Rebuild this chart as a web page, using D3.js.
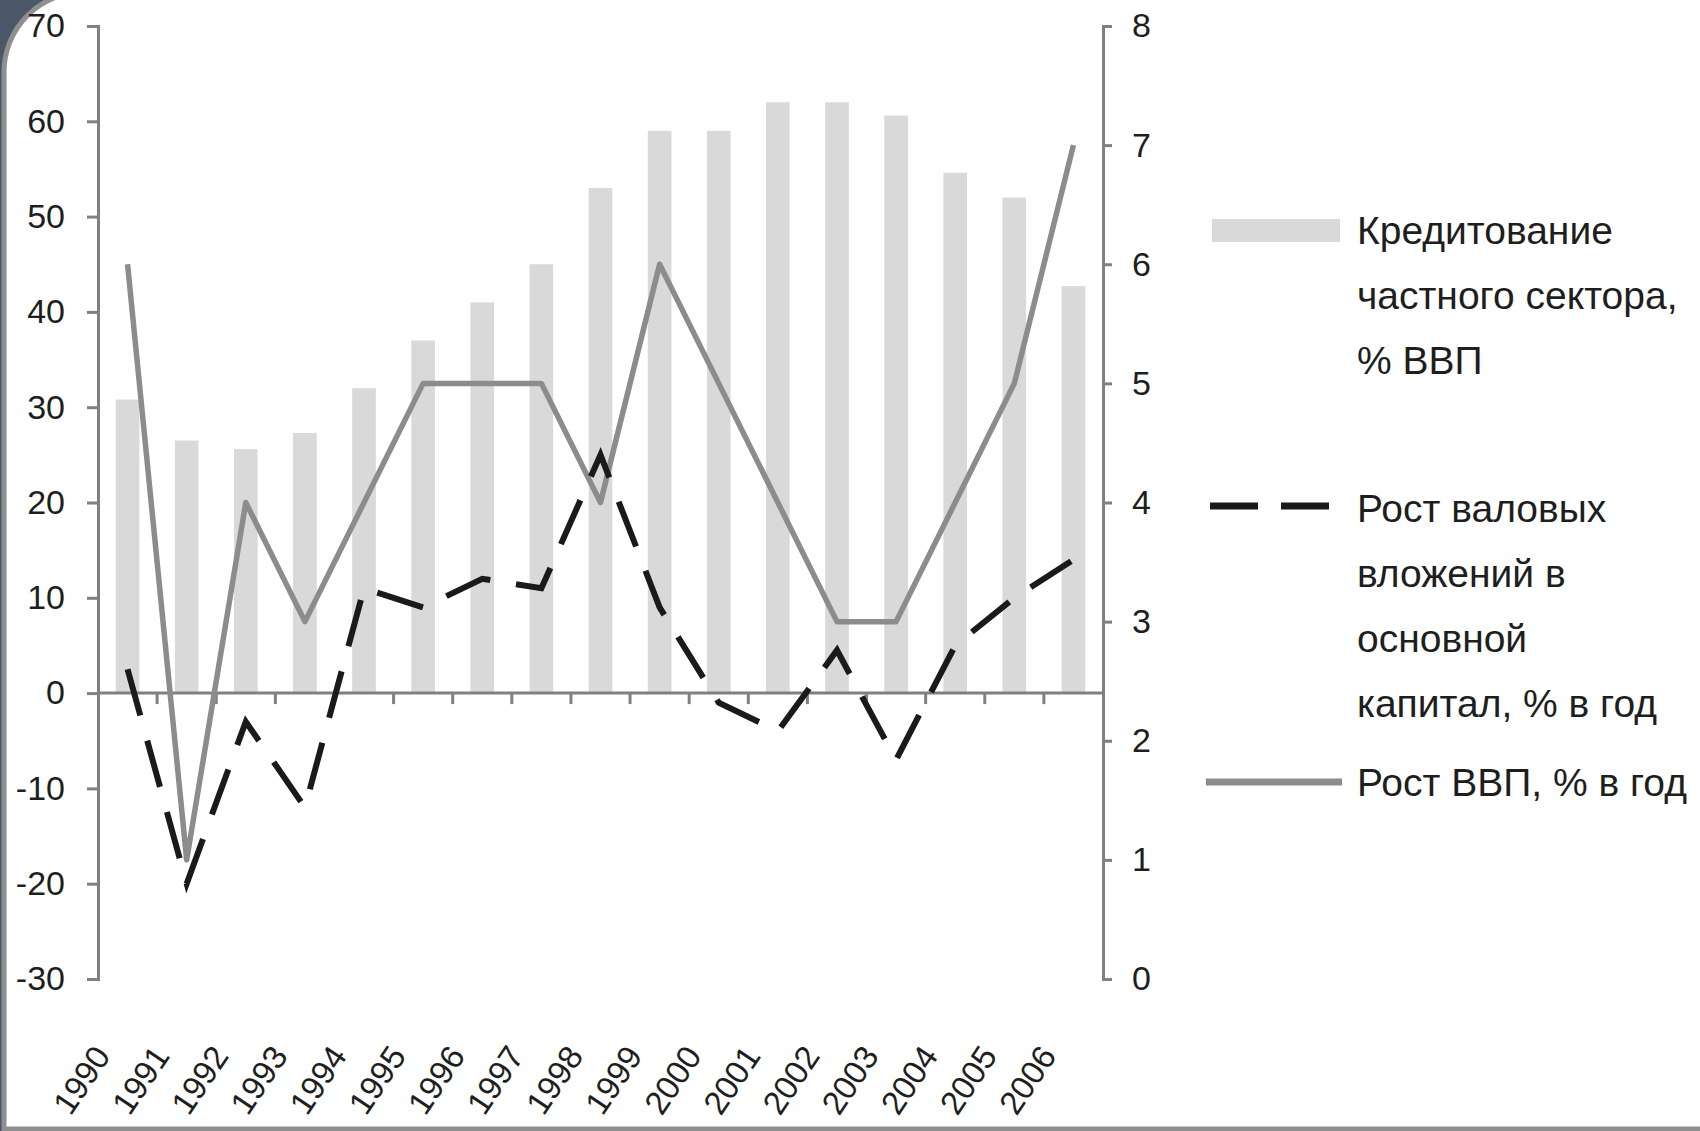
<!DOCTYPE html>
<html>
<head>
<meta charset="utf-8">
<script src="https://cdn.jsdelivr.net/npm/d3@7/dist/d3.min.js"></script>
<style>
    html, body { margin: 0; padding: 0; background: #ffffff; }
    svg { display: block; }
    text { font-family: "Liberation Sans", Arial, sans-serif; fill: #1e1e1e; }
</style>
</head>
<body>
<div id="chart"></div>
<script>
    const years = ['1990', '1991', '1992', '1993', '1994', '1995', '1996', '1997', '1998',
        '1999', '2000', '2001', '2002', '2003', '2004', '2005', '2006'];
    // Кредитование частного сектора, % ВВП (left axis)
    const credit = [30.8, 26.5, 25.6, 27.3, 32, 37, 41, 45, 53, 59, 59, 62, 62, 60.6, 54.6, 52, 42.7];
    // Рост валовых вложений в основной капитал, % в год (left axis)
    const investment = [2.5, -20, -3, -12, 11, 9, 12, 11, 25, 9, -1, -4, 4.5, -7, 5, 10, 14];
    // Рост ВВП, % в год (right axis)
    const gdp = [6, 1, 4, 3, 4, 5, 5, 5, 4, 6, 5, 4, 3, 3, 4, 5, 7];

    const leftTicks = [-30, -20, -10, 0, 10, 20, 30, 40, 50, 60, 70];
    const rightTicks = [0, 1, 2, 3, 4, 5, 6, 7, 8];

    const legendCredit = ['Кредитование', 'частного сектора,', '% ВВП'];
    const legendInvest = ['Рост валовых', 'вложений в', 'основной', 'капитал, % в год'];
    const legendGdp = ['Рост ВВП, % в год'];

    const width = 1700;
    const height = 1131;
    const plot = { left: 98, right: 1103, top: 26, bottom: 979 };

    const svg = d3.select('#chart')
        .append('svg')
        .attr('width', width)
        .attr('height', height);

    // slide frame: dark corner top-left, white card with grey border
    svg.append('rect')
        .attr('width', width)
        .attr('height', height)
        .attr('fill', '#4b5669');

    svg.append('path')
        .attr('d', 'M4,1129 V72 A80,80 0 0 1 84,-8 H1720 V1129 Z')
        .attr('fill', '#ffffff')
        .attr('stroke', '#8f8f8f')
        .attr('stroke-width', 5);

    const x = d3.scaleBand()
        .domain(years)
        .range([plot.left, plot.right])
        .paddingInner(0.6)
        .paddingOuter(0.3);

    // band of a full category (for tick marks and line points)
    const xCat = d3.scaleBand()
        .domain(years)
        .range([plot.left, plot.right]);

    const yLeft = d3.scaleLinear()
        .domain([-30, 70])
        .range([plot.bottom, plot.top]);

    const yRight = d3.scaleLinear()
        .domain([0, 8])
        .range([plot.bottom, plot.top]);

    const g = svg.append('g');

    // bars
    g.selectAll('rect.bar')
        .data(credit)
        .enter()
        .append('rect')
        .attr('class', 'bar')
        .attr('x', (d, i) => x(years[i]))
        .attr('width', x.bandwidth())
        .attr('y', d => yLeft(d))
        .attr('height', d => yLeft(0) - yLeft(d))
        .attr('fill', '#d9d9d9');

    const axisColor = '#808080';

    // left axis
    const leftAxis = g.append('g')
        .attr('transform', `translate(${plot.left},0)`)
        .call(d3.axisLeft(yLeft).tickValues(leftTicks).tickSize(11).tickPadding(22));

    // right axis
    const rightAxis = g.append('g')
        .attr('transform', `translate(${plot.right},0)`)
        .call(d3.axisRight(yRight).tickValues(rightTicks).tickSize(9).tickPadding(20));

    [leftAxis, rightAxis].forEach(a => {
        a.select('.domain').attr('stroke', axisColor).attr('stroke-width', 3);
        a.selectAll('.tick line').attr('stroke', axisColor).attr('stroke-width', 3);
        a.selectAll('.tick text')
            .attr('font-size', 34)
            .attr('font-family', '"Liberation Sans", Arial, sans-serif')
            .attr('fill', '#1e1e1e')
            .text(d => d < 0 ? '-' + Math.abs(d) : d);
    });

    // category axis at zero with ticks between categories
    const zeroY = yLeft(0);
    g.append('line')
        .attr('x1', plot.left)
        .attr('x2', plot.right)
        .attr('y1', zeroY)
        .attr('y2', zeroY)
        .attr('stroke', axisColor)
        .attr('stroke-width', 3);

    g.selectAll('line.cat-tick')
        .data(years.slice(1))
        .enter()
        .append('line')
        .attr('class', 'cat-tick')
        .attr('x1', d => xCat(d))
        .attr('x2', d => xCat(d))
        .attr('y1', zeroY)
        .attr('y2', zeroY + 11)
        .attr('stroke', axisColor)
        .attr('stroke-width', 3);

    // year labels below the plot
    g.selectAll('text.year')
        .data(years)
        .enter()
        .append('text')
        .attr('class', 'year')
        .attr('text-anchor', 'end')
        .attr('font-size', 33)
        .attr('transform', d => `translate(${xCat(d) + xCat.bandwidth() / 2 - 16},1056) rotate(-56)`)
        .text(d => d);

    const cx = i => xCat(years[i]) + xCat.bandwidth() / 2;

    // GDP growth line (right axis)
    g.append('path')
        .datum(gdp)
        .attr('d', d3.line().x((d, i) => cx(i)).y(d => yRight(d)))
        .attr('fill', 'none')
        .attr('stroke', '#8c8c8c')
        .attr('stroke-width', 5.5)
        .attr('stroke-linejoin', 'round');

    // investment growth line (left axis)
    g.append('path')
        .datum(investment)
        .attr('d', d3.line().x((d, i) => cx(i)).y(d => yLeft(d)))
        .attr('fill', 'none')
        .attr('stroke', '#1a1a1a')
        .attr('stroke-width', 6)
        .attr('stroke-dasharray', '48,26');

    // legend
    const legend = svg.append('g');
    const textX = 1357;
    const lineGap = 65;

    const addLabel = (lines, y0) => {
        lines.forEach((t, i) => {
            legend.append('text')
                .attr('x', textX)
                .attr('y', y0 + i * lineGap)
                .attr('dy', '0.36em')
                .attr('font-size', 39)
                .text(t);
        });
    };

    legend.append('rect')
        .attr('x', 1212)
        .attr('y', 219)
        .attr('width', 128)
        .attr('height', 23)
        .attr('fill', '#d9d9d9');
    addLabel(legendCredit, 230);

    legend.append('line')
        .attr('x1', 1210)
        .attr('x2', 1330)
        .attr('y1', 506)
        .attr('y2', 506)
        .attr('stroke', '#1a1a1a')
        .attr('stroke-width', 7)
        .attr('stroke-dasharray', '48,23');
    addLabel(legendInvest, 508);

    legend.append('line')
        .attr('x1', 1206)
        .attr('x2', 1342)
        .attr('y1', 782)
        .attr('y2', 782)
        .attr('stroke', '#8c8c8c')
        .attr('stroke-width', 7);
    addLabel(legendGdp, 782);
</script>
</body>
</html>
